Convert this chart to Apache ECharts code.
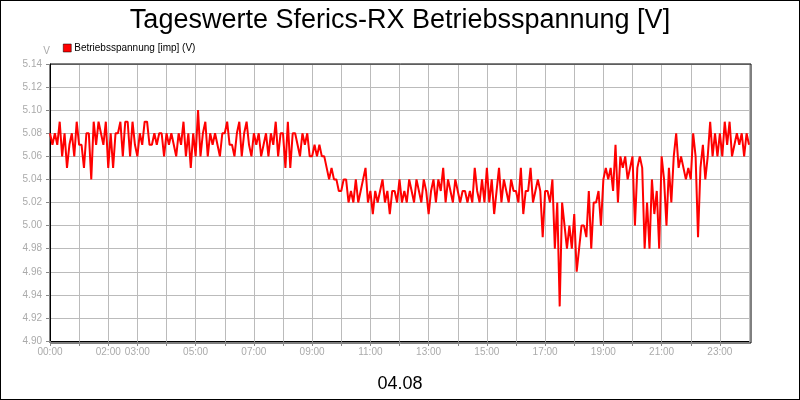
<!DOCTYPE html>
<html><head><meta charset="utf-8">
<script src="https://cdn.jsdelivr.net/npm/echarts@6/dist/echarts.min.js"></script>
<style>html,body{margin:0;padding:0;background:#fff}#c{width:798px;height:398px;border:1px solid #000}</style>
</head><body><div id="c"></div>
<script>
const titleText = 'Tageswerte Sferics-RX Betriebsspannung [V]';
const seriesName = 'Betriebsspannung [imp] (V)';
const dateLabel = '04.08';
const shownHourLabels = [0,2,3,5,7,9,11,13,15,17,19,21,23];
const yTicks = [4.90,4.92,4.94,4.96,4.98,5.00,5.02,5.04,5.06,5.08,5.10,5.12,5.14];
// values every 5 minutes, 12 per hour
const h00 = [5.08,5.07,5.08,5.07,5.09,5.06,5.08,5.05,5.07,5.08,5.06,5.09];
const h01 = [5.07,5.07,5.05,5.08,5.08,5.04,5.09,5.07,5.09,5.08,5.07,5.09];
const h02 = [5.05,5.08,5.05,5.08,5.08,5.09,5.06,5.09,5.09,5.06,5.09,5.07];
const h03 = [5.06,5.08,5.07,5.09,5.09,5.07,5.07,5.08,5.07,5.08,5.08,5.06];
const h04 = [5.08,5.07,5.08,5.07,5.06,5.08,5.07,5.09,5.06,5.08,5.05,5.08];
const h05 = [5.06,5.10,5.06,5.08,5.09,5.06,5.08,5.07,5.08,5.07,5.06,5.08];
const h06 = [5.08,5.09,5.07,5.07,5.06,5.08,5.09,5.06,5.08,5.09,5.07,5.06];
const h07 = [5.08,5.07,5.08,5.06,5.07,5.08,5.06,5.08,5.07,5.09,5.06,5.08];
const h08 = [5.08,5.05,5.09,5.05,5.08,5.08,5.07,5.06,5.08,5.07,5.08,5.06];
const h09 = [5.06,5.07,5.06,5.07,5.06,5.06,5.05,5.04,5.05,5.04,5.04,5.03];
const h10 = [5.03,5.04,5.04,5.02,5.03,5.02,5.04,5.02,5.03,5.04,5.05,5.02];
const h11 = [5.03,5.01,5.03,5.02,5.03,5.04,5.02,5.03,5.01,5.03,5.03,5.02];
const h12 = [5.04,5.02,5.03,5.02,5.04,5.03,5.02,5.04,5.03,5.02,5.04,5.03];
const h13 = [5.01,5.03,5.04,5.02,5.04,5.03,5.05,5.02,5.04,5.03,5.02,5.04];
const h14 = [5.03,5.02,5.03,5.03,5.02,5.03,5.02,5.05,5.03,5.02,5.04,5.02];
const h15 = [5.05,5.02,5.04,5.01,5.03,5.05,5.02,5.04,5.03,5.02,5.04,5.03];
const h16 = [5.03,5.02,5.05,5.01,5.03,5.03,5.05,5.02,5.03,5.04,5.03,4.99];
const h17 = [5.03,5.03,5.02,5.04,4.98,5.02,4.93,5.02,5.00,4.98,5.00,4.98];
const h18 = [5.01,4.96,4.98,5.00,5.00,4.99,5.03,4.98,5.02,5.02,5.03,5.00];
const h19 = [5.04,5.05,5.04,5.05,5.03,5.07,5.02,5.06,5.05,5.06,5.04,5.05];
const h20 = [5.06,5.00,5.05,5.06,5.05,4.98,5.02,4.98,5.04,5.01,5.03,4.98];
const h21 = [5.06,5.04,5.00,5.05,5.02,5.06,5.08,5.05,5.06,5.05,5.04,5.05];
const h22 = [5.04,5.08,5.06,4.99,5.05,5.07,5.04,5.06,5.09,5.06,5.08,5.06];
const h23 = [5.08,5.06,5.09,5.07,5.09,5.06,5.07,5.08,5.07,5.08,5.06,5.08];
const lastValue = 5.07;
const values = [].concat(h00,h01,h02,h03,h04,h05,h06,h07,h08,h09,h10,h11,h12,h13,h14,h15,h16,h17,h18,h19,h20,h21,h22,h23,[lastValue]);
const data = values.map((v,i)=>[i/12, v]);
const pad = n => (n<10?'0':'')+n;
const chart = echarts.init(document.getElementById('c'));
chart.setOption({
  animation:false,
  title:[{text:titleText,left:'center',top:1,textStyle:{fontFamily:'Liberation Sans',fontSize:27,fontWeight:'normal',color:'#000'}},
         {text:dateLabel,left:'center',top:369,textStyle:{fontFamily:'Liberation Sans',fontSize:18,fontWeight:'normal',color:'#000'}}],
  legend:{left:57,top:37,itemWidth:8,itemHeight:8,itemGap:4,icon:'rect',textStyle:{fontFamily:'Liberation Sans',fontSize:10,color:'#000',padding:[0,0,0,-2]},data:[{name:seriesName,itemStyle:{color:'#ff0000',borderColor:'#000',borderWidth:0.5}}]},
  grid:{left:49,right:50,top:63,bottom:58},
  xAxis:{type:'value',min:0,max:24,interval:1,
    axisLine:{lineStyle:{color:'#000'}},axisTick:{lineStyle:{color:'#888'},length:5},
    splitLine:{show:true,lineStyle:{color:'#bbb'}},
    axisLabel:{color:'#aaa',fontFamily:'Liberation Sans',fontSize:10,margin:6,hideOverlap:false,showMaxLabel:false,
      formatter:v=>shownHourLabels.includes(v)?pad(v)+':00':''}},
  yAxis:{type:'value',min:yTicks[0],max:yTicks[yTicks.length-1],interval:0.02,name:'V',
    nameGap:8,nameTextStyle:{color:'#aaa',fontSize:10,align:'right'},
    axisLine:{show:true,lineStyle:{color:'#000'}},axisTick:{show:true,lineStyle:{color:'#888'},length:4},
    splitLine:{lineStyle:{color:'#bbb'}},
    axisLabel:{color:'#aaa',fontFamily:'Liberation Sans',fontSize:10,formatter:v=>v.toFixed(2)}},
  series:[{name:seriesName,type:'line',data:data,showSymbol:false,lineStyle:{color:'#ff0000',width:2},itemStyle:{color:'#ff0000'}}]
});
chart.setOption({graphic:[{type:'rect',shape:{x:49,y:63,width:701,height:279},style:{fill:'none',stroke:'#000',lineWidth:1},silent:true}]});
</script></body></html>
